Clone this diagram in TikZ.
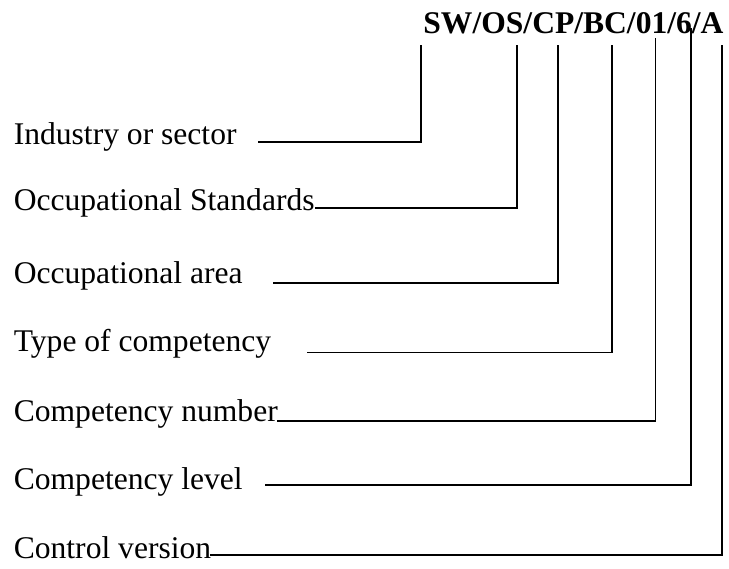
\documentclass[tikz,border=0pt]{standalone}
\usepackage{fontspec}
\setmainfont{Liberation Serif}
\usetikzlibrary{positioning}

\begin{document}
\begin{tikzpicture}[
    x=0.38pt, y=-0.38pt,
    field/.style={anchor=base west, inner sep=0pt,
                  font=\fontsize{12}{14}\selectfont},
    codebox/.style={anchor=base east, inner sep=0pt,
                    font=\fontsize{12}{14}\selectfont\bfseries},
    link/.style={draw, line width=0.75pt}
  ]
    \useasboundingbox (0,0) rectangle (729,569);

    \node[codebox] (code) at (724,33.3) {SW/OS/CP/BC/01/6/A};

    \node[field] (ind) at (13.3,144.3) {Industry or sector};
    \node[field] (ost) at (13.3,211)   {Occupational Standards};
    \node[field] (area) at (13.3,283.3) {Occupational area};
    \node[field] (type) at (13.3,351.7) {Type of competency};
    \node[field] (num) at (13.3,421.7) {Competency number};
    \node[field] (lev) at (13.3,490)   {Competency level};
    \node[field] (ver) at (13.3,558.3) {Control version};

    % leader ends under the code
    \coordinate (ind-t)  at (421,45);
    \coordinate (ost-t)  at (516.7,45);
    \coordinate (area-t) at (557.7,45);
    \coordinate (type-t) at (611.7,45);
    \coordinate (num-t)  at (655.5,38);
    \coordinate (lev-t)  at (691,28.3);
    \coordinate (ver-t)  at (721.7,45);

    % leader starts beside the texts
    \coordinate (ind-s)  at (258,141.7);
    \coordinate (ost-s)  at (315,208);
    \coordinate (area-s) at (273,283.3);
    \coordinate (type-s) at (307,352.5);
    \coordinate (num-s)  at (277,420.7);
    \coordinate (lev-s)  at (265,485);
    \coordinate (ver-s)  at (210,555);

    \draw[link] (ind-s) -| (ind-t);
    \draw[link] (ost-s) -| (ost-t);
    \draw[link] (area-s) -| (area-t);
    \draw[link] (type-s) -| (type-t);
    \draw[link] (num-s) -| (num-t);
    \draw[link] (lev-s) -| (lev-t);
    \draw[link] (ver-s) -| (ver-t);
  \end{tikzpicture}
\end{document}
